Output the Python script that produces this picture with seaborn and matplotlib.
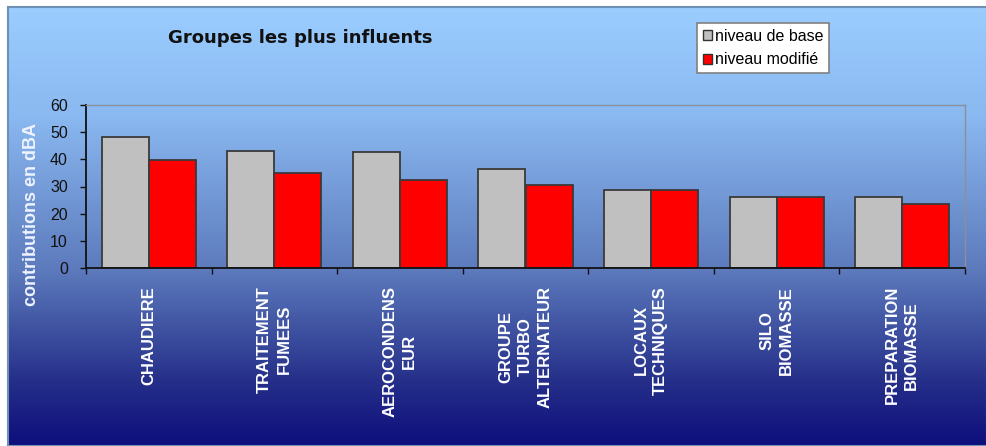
import numpy as np
import pandas as pd
import matplotlib
matplotlib.use("Agg")
import matplotlib.pyplot as plt
from matplotlib.colors import LinearSegmentedColormap
from matplotlib.patches import Patch
import seaborn as sns

# Noise contribution per equipment group (dBA)
groupes = ["CHAUDIERE", "TRAITEMENT\nFUMEES", "AEROCONDENS\nEUR",
           "GROUPE\nTURBO\nALTERNATEUR", "LOCAUX\nTECHNIQUES",
           "SILO\nBIOMASSE", "PREPARATION\nBIOMASSE"]
niveau_base = [48.2, 43.1, 42.7, 36.4, 28.7, 26.1, 26.1]
niveau_modifie = [39.7, 35.0, 32.4, 30.5, 28.7, 26.1, 23.5]
series = ["niveau de base", "niveau modifié"]
y_ticks = [0, 10, 20, 30, 40, 50, 60]

df = pd.DataFrame({
    "groupe": groupes * 2,
    "niveau": [series[0]] * len(groupes) + [series[1]] * len(groupes),
    "dBA": niveau_base + niveau_modifie,
})

plt.rcParams["font.family"] = ["Liberation Sans", "DejaVu Sans"]

W, H = 987, 446
fig = plt.figure(figsize=(W / 100, H / 100), dpi=100)
fig.patch.set_facecolor("white")

# Gradient backdrop: light sky blue at the top fading into navy
bg = fig.add_axes([8 / W, 0, 1 - 8 / W, (H - 7) / H], zorder=-10)
cmap = LinearSegmentedColormap.from_list(
    "sky",
    [(0.00, (155 / 255, 205 / 255, 255 / 255)),
     (0.25, (138 / 255, 184 / 255, 240 / 255)),
     (0.60, (92 / 255, 122 / 255, 188 / 255)),
     (0.85, (38 / 255, 48 / 255, 138 / 255)),
     (1.00, (14 / 255, 14 / 255, 124 / 255))])
grad = np.linspace(0, 1, 256).reshape(-1, 1)
bg.imshow(grad, aspect="auto", cmap=cmap, extent=[0, 1, 0, 1], origin="upper")
bg.set_xticks([])
bg.set_yticks([])
for s in bg.spines.values():
    s.set_color("#6f8fb5")
    s.set_linewidth(1.5)

ax = fig.add_axes([86 / W, 1 - 268 / H, (965 - 86) / W, (268 - 105) / H])
ax.set_facecolor("none")

sns.barplot(data=df, x="groupe", y="dBA", hue="niveau", hue_order=series,
            palette=["#C0C0C0", "#FF0000"], width=0.75, gap=0,
            edgecolor="#3a3a3a", linewidth=1.3, saturation=1,
            errorbar=None, ax=ax, legend=False)

ax.set_ylim(0, 60)
ax.set_xlim(-0.5, len(groupes) - 0.5)
ax.set_yticks(y_ticks)
ax.set_yticklabels([str(v) for v in y_ticks], fontsize=11.5, color="#111111")
ax.tick_params(axis="y", length=4, width=1, pad=9, color="#111111")

ax.set_xticks(range(len(groupes)))
ax.set_xticklabels(groupes, rotation=90, ha="center", va="top",
                   multialignment="center", color="white",
                   fontweight="bold", fontsize=12, linespacing=1.35)
ax.tick_params(axis="x", which="major", length=0, pad=13)
ax.set_xticks(np.arange(-0.5, len(groupes), 1.0), minor=True)
ax.tick_params(axis="x", which="minor", length=4, width=1, color="#111111")

ax.set_xlabel("")
ax.set_ylabel("")
for side in ("left", "bottom"):
    ax.spines[side].set_color("#111111")
    ax.spines[side].set_linewidth(1.3)
for side in ("top", "right"):
    ax.spines[side].set_color("#8a8f99")
    ax.spines[side].set_linewidth(1.0)

fig.text(32 / W, 1 - 215 / H, "contributions en dBA", rotation=90,
         ha="center", va="center", fontsize=13, fontweight="bold",
         color="#eef3ff")

fig.text(300 / W, 1 - 38 / H, "Groupes les plus influents",
         ha="center", va="center", fontsize=13, fontweight="bold",
         color="#111111", family="DejaVu Sans")

handles = [Patch(facecolor="#C0C0C0", edgecolor="#333333", linewidth=1),
           Patch(facecolor="#FF0000", edgecolor="#333333", linewidth=1)]
leg = ax.legend(handles=handles, labels=series, loc="upper left",
                bbox_to_anchor=(697 / W, 1 - 23 / H),
                bbox_transform=fig.transFigure, fontsize=11.5,
                handlelength=0.6, handleheight=0.6, handletextpad=0.2,
                borderpad=0.35, labelspacing=0.55, borderaxespad=0,
                fancybox=False, framealpha=1, edgecolor="#808080")
leg.get_frame().set_linewidth(1.2)

fig.savefig("out.png", dpi=100)
